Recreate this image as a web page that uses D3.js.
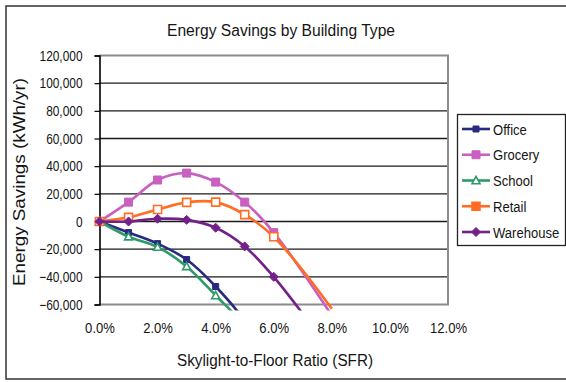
<!DOCTYPE html>
<html>
<head>
<meta charset="utf-8">
<script src="https://cdn.jsdelivr.net/npm/d3@7"></script>
<style>
  html, body { margin: 0; padding: 0; background: #fff; }
  svg { display: block; font-family: "Liberation Sans", Arial, sans-serif; }
</style>
</head>
<body>
<svg id="chart" width="566" height="382"></svg>
<script>
// Skylight-to-floor ratio (%) at which each building type was simulated
const sfr = [0, 1, 2, 3, 4, 5, 6, 8];

// Annual energy savings (kWh/yr) per building type
const office    = [0, -8000, -16000, -27500, -47000, -72000, -110000, -200000];
const grocery   = [0, 14000, 30000, 35000, 28500, 14000, -8000, -68000];
const school    = [0, -11000, -18500, -32500, -53500, -76000, -115000, -210000];
const retail    = [0, 3000, 8700, 13800, 14000, 5000, -11000, -63000];
const warehouse = [0, 0, 2000, 1200, -4500, -18000, -40000, -95000];

const seriesNames = ["Office", "Grocery", "School", "Retail", "Warehouse"];
const yTicks = [120000, 100000, 80000, 60000, 40000, 20000, 0, -20000, -40000, -60000];
const xTicks = [0, 2, 4, 6, 8, 10, 12];

const series = [
  { name: seriesNames[0], values: office,    color: "#2a2a80", shape: "square",   size: 6, hollow: false },
  { name: seriesNames[1], values: grocery,   color: "#c95fc0", shape: "square",   size: 8, hollow: false },
  { name: seriesNames[2], values: school,    color: "#2e9a6a", shape: "triangle", size: 8, hollow: true },
  { name: seriesNames[3], values: retail,    color: "#ff6c22", shape: "square",   size: 8, hollow: true },
  { name: seriesNames[4], values: warehouse, color: "#74208a", shape: "diamond",  size: 9, hollow: false }
];

const svg = d3.select("#chart");
const plot = { left: 99.5, right: 448, top: 55.5, bottom: 304.5 };
const FONT = "'Liberation Sans', Arial, sans-serif";

const x = d3.scaleLinear().domain([0, 12]).range([plot.left, plot.right]);
const y = d3.scaleLinear().domain([-60000, 120000]).range([plot.bottom, plot.top]);

// narrow the glyphs of a text selection by a factor (taller-looking type)
function condense(sel, factor) {
  sel.attr("textLength", function () { return this.getComputedTextLength() * factor; })
     .attr("lengthAdjust", "spacingAndGlyphs");
}

// outer chart frame
svg.append("rect")
  .attr("x", 6).attr("y", 6).attr("width", 580).attr("height", 373)
  .attr("fill", "none").attr("stroke", "#333").attr("stroke-width", 1.5);

// title
svg.append("text")
  .attr("x", 281).attr("y", 36)
  .attr("text-anchor", "middle")
  .attr("font-size", 16).attr("fill", "#151515")
  .attr("textLength", 228).attr("lengthAdjust", "spacingAndGlyphs")
  .text("Energy Savings by Building Type");

// horizontal gridlines (inner ones black)
svg.append("g").selectAll("line")
  .data(yTicks.filter(v => v !== 120000 && v !== -60000))
  .join("line")
  .attr("x1", plot.left).attr("x2", plot.right)
  .attr("y1", d => y(d)).attr("y2", d => y(d))
  .attr("stroke", "#1a1a1a").attr("stroke-width", 1.4);

// plot area border: top, right, bottom in gray
svg.append("path")
  .attr("d", `M${plot.left},${plot.top}H${plot.right}V${plot.bottom}H${plot.left}`)
  .attr("fill", "none").attr("stroke", "#8c8c8c").attr("stroke-width", 2);

// y axis
const yAxis = d3.axisLeft(y).tickValues(yTicks).tickSize(5).tickPadding(12)
  .tickFormat(d3.format(","));
const gy = svg.append("g").attr("transform", `translate(${plot.left},0)`).call(yAxis);
gy.select(".domain").attr("stroke", "#000").attr("stroke-width", 1.6);
gy.selectAll(".tick line").attr("stroke", "#000").attr("stroke-width", 1.2);
gy.selectAll(".tick text")
  .attr("font-size", 14.5).attr("fill", "#151515")
  .attr("font-family", FONT)
  .call(condense, 0.82);

// x tick labels along the bottom
const xAxis = d3.axisBottom(x).tickValues(xTicks).tickSize(0).tickPadding(0)
  .tickFormat(d => d.toFixed(1) + "%");
const gx = svg.append("g").attr("transform", `translate(0,${plot.bottom})`).call(xAxis);
gx.select(".domain").remove();
gx.selectAll(".tick text")
  .attr("y", 28.5).attr("dy", 0)
  .attr("font-size", 14.5).attr("fill", "#151515")
  .attr("font-family", FONT)
  .call(condense, 0.9);

// axis titles
svg.append("text")
  .attr("x", 275).attr("y", 366)
  .attr("text-anchor", "middle")
  .attr("font-size", 16).attr("fill", "#151515")
  .attr("textLength", 196).attr("lengthAdjust", "spacingAndGlyphs")
  .text("Skylight-to-Floor Ratio (SFR)");

svg.append("text")
  .attr("transform", "translate(25,182) rotate(-90)")
  .attr("text-anchor", "middle")
  .attr("font-size", 16).attr("fill", "#151515")
  .attr("textLength", 208).attr("lengthAdjust", "spacingAndGlyphs")
  .text("Energy Savings (kWh/yr)");

// lines are clipped slightly below the plot area
svg.append("clipPath").attr("id", "lineClip")
  .append("rect")
  .attr("x", plot.left).attr("y", plot.top)
  .attr("width", plot.right - plot.left).attr("height", plot.bottom - plot.top + 6);

const line = d3.line()
  .x((d, i) => x(sfr[i]))
  .y(d => y(d))
  .curve(d3.curveCatmullRom.alpha(0.5));

function markerPath(shape, size) {
  const h = size / 2;
  if (shape === "square") return `M${-h},${-h}H${h}V${h}H${-h}Z`;
  if (shape === "triangle") return `M0,${-h}L${h},${h * 0.8}H${-h}Z`;
  if (shape === "diamond") return `M0,${-h}L${h},0L0,${h}L${-h},0Z`;
  return "";
}

const gSeries = svg.append("g");
series.forEach(s => {
  const g = gSeries.append("g");
  g.append("path")
    .attr("d", line(s.values))
    .attr("clip-path", "url(#lineClip)")
    .attr("fill", "none").attr("stroke", s.color).attr("stroke-width", 2.6);
  // markers only where the value lies inside the axis range
  const pts = s.values.map((v, i) => ({ x: sfr[i], v }))
    .filter(p => p.v >= y.domain()[0] && p.v <= y.domain()[1]);
  g.selectAll("path.m").data(pts).join("path")
    .attr("class", "m")
    .attr("transform", p => `translate(${x(p.x)},${y(p.v)})`)
    .attr("d", markerPath(s.shape, s.size))
    .attr("fill", s.hollow ? "#fff" : s.color)
    .attr("stroke", s.color).attr("stroke-width", s.hollow ? 1.6 : 1);
});

// legend
const legend = svg.append("g");
legend.append("rect")
  .attr("x", 457.5).attr("y", 114.5).attr("width", 108).attr("height", 131)
  .attr("fill", "#fff").attr("stroke", "#222").attr("stroke-width", 1.3);
const rowY = d3.scalePoint().domain(seriesNames).range([129, 232]);
series.forEach(s => {
  const ly = rowY(s.name);
  legend.append("line")
    .attr("x1", 462).attr("x2", 490).attr("y1", ly).attr("y2", ly)
    .attr("stroke", s.color).attr("stroke-width", 2.6);
  legend.append("path")
    .attr("transform", `translate(476,${ly})`)
    .attr("d", markerPath(s.shape, s.size))
    .attr("fill", s.hollow && s.shape === "triangle" ? "#fff" : s.color)
    .attr("stroke", s.color).attr("stroke-width", s.hollow ? 1.6 : 1);
  // labels drawn slightly narrowed via a horizontal scale
  legend.append("text")
    .attr("transform", `translate(493,${ly + 5.5}) scale(0.87,1)`)
    .attr("font-size", 15).attr("fill", "#151515")
    .text(s.name);
});
</script>
</body>
</html>
